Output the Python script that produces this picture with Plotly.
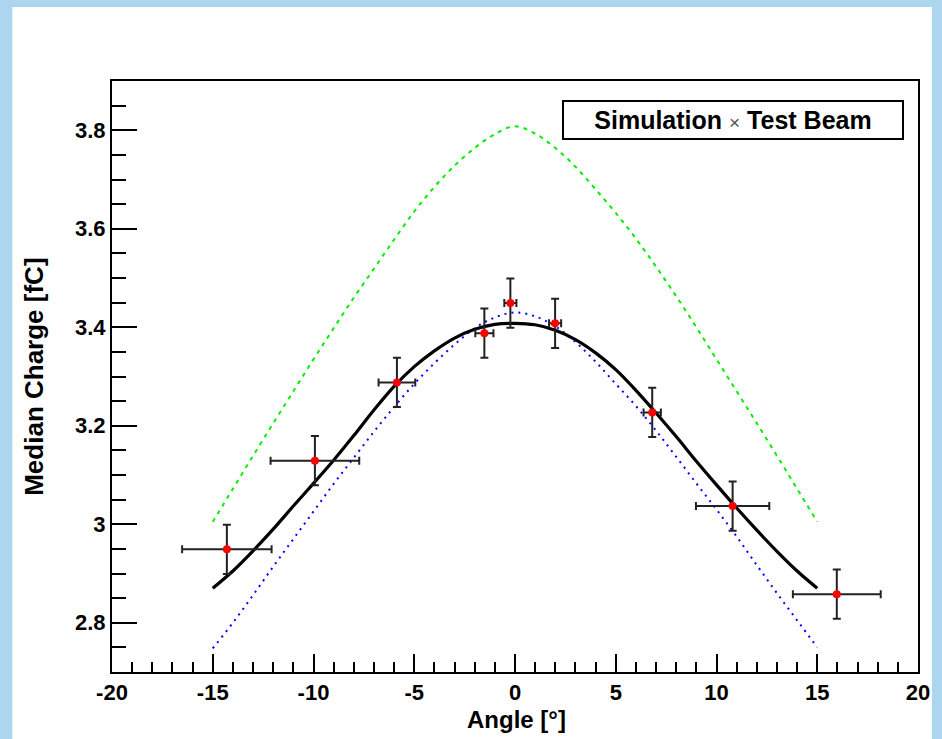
import plotly.graph_objects as go

# ---- data ----
angle_pts = [-14.3, -9.93, -5.86, -1.52, -0.23, 1.99, 6.81, 10.8, 15.97]
charge_pts = [2.949, 3.129, 3.288, 3.388, 3.449, 3.408, 3.227, 3.037, 2.858]
angle_err = [2.22, 2.2, 0.91, 0.45, 0.3, 0.3, 0.43, 1.82, 2.18]
charge_err = [0.05, 0.05, 0.05, 0.05, 0.05, 0.05, 0.05, 0.05, 0.05]

curve_x = [-15, -14, -13, -12, -11, -10, -9, -8, -7, -6, -5, -4, -3, -2, -1, 0,
           1, 2, 3, 4, 5, 6, 7, 8, 9, 10, 11, 12, 13, 14, 15]
fit_black = [2.870, 2.905, 2.946, 2.990, 3.037, 3.083, 3.130, 3.180, 3.232, 3.280,
             3.320, 3.352, 3.378, 3.396, 3.406, 3.408, 3.405, 3.394, 3.375, 3.348,
             3.314, 3.272, 3.226, 3.178, 3.128, 3.080, 3.033, 2.988, 2.945, 2.905, 2.870]
sim_blue = [2.748, 2.800, 2.856, 2.914, 2.970, 3.026, 3.082, 3.135, 3.188, 3.238,
            3.285, 3.327, 3.365, 3.398, 3.420, 3.430, 3.422, 3.402, 3.370, 3.330,
            3.285, 3.240, 3.190, 3.137, 3.083, 3.030, 2.975, 2.917, 2.860, 2.805, 2.750]
sim_green = [3.005, 3.072, 3.139, 3.205, 3.270, 3.335, 3.398, 3.460, 3.519, 3.578,
             3.635, 3.685, 3.728, 3.764, 3.792, 3.808, 3.793, 3.764, 3.726, 3.680,
             3.632, 3.580, 3.523, 3.463, 3.400, 3.335, 3.270, 3.205, 3.139, 3.072, 3.005]

x_ticks = [-20, -15, -10, -5, 0, 5, 10, 15, 20]
y_ticks = [2.8, 3.0, 3.2, 3.4, 3.6, 3.8]
y_tick_text = ["2.8", "3", "3.2", "3.4", "3.6", "3.8"]

FONT = "Liberation Sans, Arial, Helvetica, sans-serif"

fig = go.Figure()
fig.add_trace(go.Scatter(x=curve_x, y=sim_green, mode="lines",
                         line=dict(color="#00ee00", width=2, dash="4px,5px", shape="spline"),
                         hoverinfo="skip", showlegend=False))
fig.add_trace(go.Scatter(x=curve_x, y=sim_blue, mode="lines",
                         line=dict(color="#0000ff", width=2, dash="2px,5px", shape="spline"),
                         hoverinfo="skip", showlegend=False))
fig.add_trace(go.Scatter(x=curve_x, y=fit_black, mode="lines",
                         line=dict(color="black", width=3.2, shape="spline"),
                         hoverinfo="skip", showlegend=False))
fig.add_trace(go.Scatter(x=angle_pts, y=charge_pts, mode="markers",
                         marker=dict(color="#ff0000", size=8),
                         error_x=dict(type="data", array=angle_err, color="#222222",
                                      thickness=2, width=4),
                         error_y=dict(type="data", array=charge_err, color="#222222",
                                      thickness=2, width=4),
                         showlegend=False))

# plot-area geometry in pixels
L, R, T, B = 112, 21, 81, 67
W, H = 942, 739
pw, ph = W - L - R, H - T - B

def px_x(p):
    return (p - L) / pw

def px_y(p):
    return (H - B - p) / ph

# white slide panel over blue background
fig.add_shape(type="rect", xref="paper", yref="paper",
              x0=px_x(12), x1=px_x(935), y0=px_y(745), y1=px_y(7),
              fillcolor="white", line=dict(width=0), layer="below")

fig.update_layout(
    width=W, height=H,
    margin=dict(l=L, r=R, t=T, b=B),
    paper_bgcolor="#acd5ef",
    plot_bgcolor="white",
    font=dict(family=FONT, color="black"),
    xaxis=dict(range=[-20, 20], tickvals=x_ticks, ticktext=[str(v) for v in x_ticks],
               ticks="inside", ticklen=18, tickwidth=2, tickcolor="black",
               minor=dict(dtick=1, tick0=0, ticks="inside", ticklen=10, tickwidth=2,
                          tickcolor="black", showgrid=False),
               showline=True, linecolor="black", linewidth=2, mirror=True,
               showgrid=False, zeroline=False, ticklabelstandoff=0,
               tickfont=dict(family=FONT, size=22, color="black", weight="bold")),
    yaxis=dict(range=[2.7, 3.9], tickvals=y_ticks, ticktext=y_tick_text,
               ticks="inside", ticklen=25, tickwidth=2, tickcolor="black",
               minor=dict(dtick=0.05, tick0=2.7, ticks="inside", ticklen=14, tickwidth=2,
                          tickcolor="black", showgrid=False),
               showline=True, linecolor="black", linewidth=2, mirror=True,
               showgrid=False, zeroline=False,
               tickfont=dict(family=FONT, size=22, color="black", weight="bold")),
    annotations=[
        dict(text="<b>Angle [°]</b>", xref="paper", yref="paper",
             x=px_x(518), y=px_y(719), xanchor="center", yanchor="middle",
             showarrow=False, font=dict(family=FONT, size=24, color="black")),
        dict(text="<b>Median Charge [fC]</b>", xref="paper", yref="paper",
             x=px_x(33), y=0.5, xanchor="center", yanchor="middle",
             showarrow=False, textangle=-90,
             font=dict(family=FONT, size=26, color="black")),
        dict(text="<b>Simulation</b> <span style='color:#555555;font-size:19px'>×</span> <b>Test Beam</b>",
             xref="paper", yref="paper", x=px_x(735), y=px_y(120),
             xanchor="center", yanchor="middle",
             showarrow=False, width=336, height=34,
             bordercolor="black", borderwidth=2, bgcolor="white",
             font=dict(family=FONT, size=25, color="black")),
    ],
)

fig.write_html("out.html")
